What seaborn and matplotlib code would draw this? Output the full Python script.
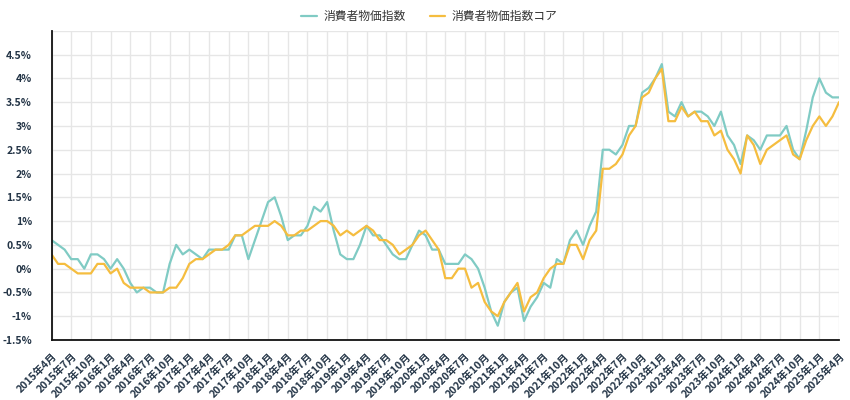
import numpy as np
import pandas as pd
import seaborn as sns
import matplotlib.pyplot as plt
import matplotlib.transforms as mtransforms

# monthly YoY change (%), 2015年4月 .. 2025年4月
months = [f"{d.year}年{d.month}月" for d in pd.period_range("2015-04", "2025-04", freq="M")]

cpi = [0.6, 0.5, 0.4, 0.2, 0.2, 0.0, 0.3, 0.3, 0.2,
       0.0, 0.2, 0.0, -0.3, -0.5, -0.4, -0.4, -0.5, -0.5, 0.1, 0.5, 0.3,
       0.4, 0.3, 0.2, 0.4, 0.4, 0.4, 0.4, 0.7, 0.7, 0.2, 0.6, 1.0,
       1.4, 1.5, 1.1, 0.6, 0.7, 0.7, 0.9, 1.3, 1.2, 1.4, 0.8, 0.3,
       0.2, 0.2, 0.5, 0.9, 0.7, 0.7, 0.5, 0.3, 0.2, 0.2, 0.5, 0.8,
       0.7, 0.4, 0.4, 0.1, 0.1, 0.1, 0.3, 0.2, 0.0, -0.4, -0.9, -1.2,
       -0.7, -0.5, -0.4, -1.1, -0.8, -0.6, -0.3, -0.4, 0.2, 0.1, 0.6, 0.8,
       0.5, 0.9, 1.2, 2.5, 2.5, 2.4, 2.6, 3.0, 3.0, 3.7, 3.8, 4.0,
       4.3, 3.3, 3.2, 3.5, 3.2, 3.3, 3.3, 3.2, 3.0, 3.3, 2.8, 2.6,
       2.2, 2.8, 2.7, 2.5, 2.8, 2.8, 2.8, 3.0, 2.5, 2.3, 2.9, 3.6,
       4.0, 3.7, 3.6, 3.6]

core = [0.3, 0.1, 0.1, 0.0, -0.1, -0.1, -0.1, 0.1, 0.1,
        -0.1, 0.0, -0.3, -0.4, -0.4, -0.4, -0.5, -0.5, -0.5, -0.4, -0.4, -0.2,
        0.1, 0.2, 0.2, 0.3, 0.4, 0.4, 0.5, 0.7, 0.7, 0.8, 0.9, 0.9,
        0.9, 1.0, 0.9, 0.7, 0.7, 0.8, 0.8, 0.9, 1.0, 1.0, 0.9, 0.7,
        0.8, 0.7, 0.8, 0.9, 0.8, 0.6, 0.6, 0.5, 0.3, 0.4, 0.5, 0.7,
        0.8, 0.6, 0.4, -0.2, -0.2, 0.0, 0.0, -0.4, -0.3, -0.7, -0.9, -1.0,
        -0.7, -0.5, -0.3, -0.9, -0.6, -0.5, -0.2, 0.0, 0.1, 0.1, 0.5, 0.5,
        0.2, 0.6, 0.8, 2.1, 2.1, 2.2, 2.4, 2.8, 3.0, 3.6, 3.7, 4.0,
        4.2, 3.1, 3.1, 3.4, 3.2, 3.3, 3.1, 3.1, 2.8, 2.9, 2.5, 2.3,
        2.0, 2.8, 2.6, 2.2, 2.5, 2.6, 2.7, 2.8, 2.4, 2.3, 2.7, 3.0,
        3.2, 3.0, 3.2, 3.5]

series = ["消費者物価指数", "消費者物価指数コア"]
colors = {"消費者物価指数": "#80cbc4", "消費者物価指数コア": "#f5bd3f"}

df = pd.DataFrame({"idx": list(range(len(months))) * 2,
                   "value": cpi + core,
                   "series": [series[0]] * len(cpi) + [series[1]] * len(core)})

sns.set_style("white")
plt.rcParams['font.family'] = ['Noto Sans CJK JP', 'DejaVu Sans']

fig = plt.figure(figsize=(8.5, 4), dpi=100)
ax = fig.add_axes([0.0606, 0.15, 0.9265, 0.773])

sns.lineplot(data=df, x="idx", y="value", hue="series", palette=colors,
             linewidth=1.6, ax=ax)

ax.set_xlim(0, len(months) - 1)
ax.set_ylim(-1.5, 5)

xt = list(range(0, len(months), 3))
ax.set_xticks(xt)
ax.set_xticklabels([months[i] for i in xt], rotation=45, ha="right",
                   rotation_mode="anchor", fontsize=7.5, fontweight="bold",
                   color="#233446")

yt = np.arange(-1.5, 5.01, 0.5)
ax.set_yticks(yt)
ax.set_yticklabels([f"{v:g}%" if v < 5 else "" for v in yt], fontsize=7.5,
                   fontweight="bold", color="#233446")
# labels sit a little above their grid lines, as in the original
offset = mtransforms.ScaledTranslation(0, 6 / 100, fig.dpi_scale_trans)
for lab in ax.get_yticklabels():
    lab.set_transform(lab.get_transform() + offset)

ax.grid(True, color="#e6e6e6", linewidth=1)
ax.tick_params(axis="x", length=7, color="#ccd6eb", pad=1)
ax.tick_params(axis="y", length=0, pad=14)

for s in ["top", "right"]:
    ax.spines[s].set_visible(False)
for s in ["left", "bottom"]:
    ax.spines[s].set_color("#111111")
    ax.spines[s].set_linewidth(1.3)

ax.set_xlabel("")
ax.set_ylabel("")

leg = ax.legend(loc="upper center", bbox_to_anchor=(0.48, 1.102), ncol=2,
                frameon=False, fontsize=8.5, handlelength=1.3,
                columnspacing=2.0, handletextpad=0.6)
for t in leg.get_texts():
    t.set_color("#333333")

fig.savefig("out.png", dpi=100)
